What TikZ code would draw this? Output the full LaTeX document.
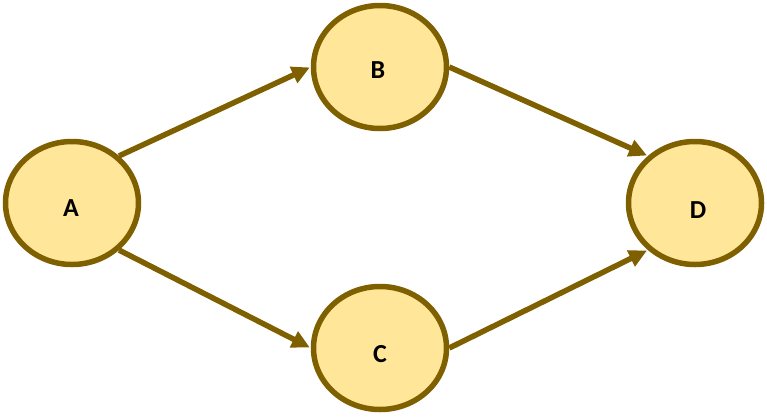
\documentclass[tikz,border=0pt]{standalone}
\usepackage{fontspec}
\setmainfont{Carlito}
\usetikzlibrary{shapes.geometric,arrows.meta}
\definecolor{nodefill}{HTML}{FFE699}
\definecolor{nodeline}{HTML}{7F6000}
\tikzset{
  state/.style={ellipse, draw=nodeline, fill=nodefill, line width=5.5pt,
    minimum width=133pt, minimum height=123pt, inner sep=0pt},
  lbl/.style={font=\bfseries\fontsize{26}{28}\selectfont, text=black},
  link/.style={draw=nodeline, line width=5.5pt,
    -{Triangle[length=18pt,width=17pt]}, shorten >=1pt}
}
\begin{document}
\begin{tikzpicture}[x=1pt,y=-1pt]
  \useasboundingbox (0,0) rectangle (767,418);
  \node[state] (A) at (72,203) {};
  \node[state] (B) at (380,67) {};
  \node[state] (C) at (380,348) {};
  \node[state] (D) at (695,203) {};
  \node[lbl] (la) at (71,208) {A};
  \node[lbl] (lb) at (378,70) {B};
  \node[lbl] (lc) at (380,354) {C};
  \node[lbl] (ld) at (698,210) {D};
  \draw[link] (A.45) -- (B.west);
  \draw[link] (A.-45) -- (C.west);
  \draw[link] (B.east) -- (D.135);
  \draw[link] (C.east) -- (D.-135);
\end{tikzpicture}
\end{document}
